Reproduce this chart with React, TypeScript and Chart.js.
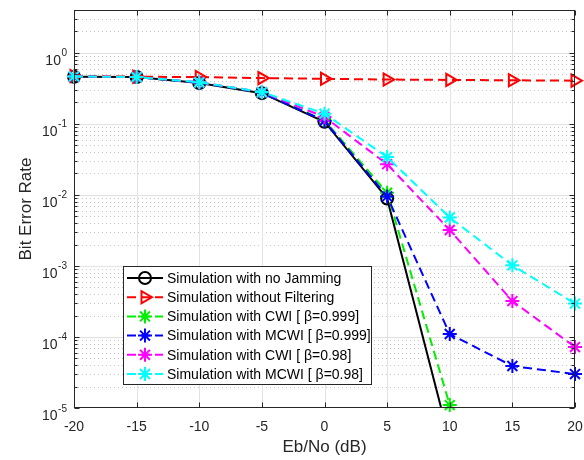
import React, { useEffect, useRef } from 'react';
import { Chart, registerables } from 'chart.js';
import { drawPoint } from 'chart.js/helpers';

Chart.register(...registerables);

// ---------- data ----------
const snrDb = [-20, -15, -10, -5, 0, 5, 10, 15, 20];
const xTickValues = [-20, -15, -10, -5, 0, 5, 10, 15, 20];
const yDecadeExponents = [0, -1, -2, -3, -4, -5];

const berNoJamming = [0.46, 0.455, 0.375, 0.27, 0.107, 0.0089, 3.4e-6, null, null];
const berNoFiltering = [0.47, 0.46, 0.455, 0.44, 0.43, 0.42, 0.415, 0.41, 0.405];
const berCwi999 = [0.46, 0.455, 0.38, 0.275, 0.112, 0.0107, 1.1e-5, null, null];
const berMcwi999 = [0.46, 0.455, 0.38, 0.275, 0.11, 0.0095, 1.1e-4, 3.9e-5, 3.0e-5];
const berCwi98 = [0.465, 0.455, 0.385, 0.28, 0.125, 0.027, 0.0032, 3.2e-4, 7.2e-5];
const berMcwi98 = [0.465, 0.455, 0.385, 0.28, 0.139, 0.034, 0.0048, 1.02e-3, 2.95e-4];

const seriesLabels = [
  'Simulation with no Jamming',
  'Simulation without Filtering',
  'Simulation with CWI [ \u03b2=0.999]',
  'Simulation with MCWI [ \u03b2=0.999]',
  'Simulation with CWI [ \u03b2=0.98]',
  'Simulation with MCWI [ \u03b2=0.98]',
];
const xAxisTitle = 'Eb/No (dB)';
const yAxisTitle = 'Bit Error Rate';

// ---------- styling ----------
const FONT = '"Liberation Sans", Arial, Helvetica, sans-serif';
const AXIS_COLOR = '#262626';

const seriesStyles = [
  { color: '#000000', dash: [], pointStyle: 'circle', radius: 6, rotation: 0 },
  { color: '#ff0000', dash: [9, 5], pointStyle: 'triangle', radius: 7, rotation: 90 },
  { color: '#00ee00', dash: [9, 5], pointStyle: 'star', radius: 7, rotation: 0 },
  { color: '#0000ff', dash: [9, 5], pointStyle: 'star', radius: 7, rotation: 0 },
  { color: '#ff00ff', dash: [9, 5], pointStyle: 'star', radius: 7, rotation: 0 },
  { color: '#00ffff', dash: [9, 5], pointStyle: 'star', radius: 7, rotation: 0 },
];

const seriesValues = [berNoJamming, berNoFiltering, berCwi999, berMcwi999, berCwi98, berMcwi98];

function hline(ctx: CanvasRenderingContext2D, x1: number, x2: number, y: number) {
  ctx.beginPath();
  ctx.moveTo(x1, y);
  ctx.lineTo(x2, y);
  ctx.stroke();
}
function vline(ctx: CanvasRenderingContext2D, x: number, y1: number, y2: number) {
  ctx.beginPath();
  ctx.moveTo(x, y1);
  ctx.lineTo(x, y2);
  ctx.stroke();
}

const matlabPlugin = {
  id: 'matlabAxes',
  beforeDatasetsDraw(chart: any) {
    const { ctx, chartArea: a, scales } = chart;
    const xs = scales.x;
    const ys = scales.y;
    ctx.save();
    ctx.fillStyle = '#ffffff';
    ctx.fillRect(a.left, a.top, a.right - a.left, a.bottom - a.top);
    ctx.lineWidth = 1;
    // minor y grid (dotted)
    ctx.strokeStyle = '#c4c4c4';
    ctx.setLineDash([1, 3]);
    for (const d of yDecadeExponents) {
      for (let m = 2; m <= 9; m++) {
        const v = m * Math.pow(10, d);
        if (v >= ys.max * 0.99) continue;
        const py = Math.round(ys.getPixelForValue(v)) + 0.5;
        hline(ctx, a.left, a.right, py);
      }
    }
    ctx.setLineDash([]);
    // major grid
    ctx.strokeStyle = '#e2e2e2';
    for (const d of yDecadeExponents) {
      const py = Math.round(ys.getPixelForValue(Math.pow(10, d))) + 0.5;
      if (py > a.bottom - 1) continue;
      hline(ctx, a.left, a.right, py);
    }
    for (const t of xTickValues) {
      const px = Math.round(xs.getPixelForValue(t)) + 0.5;
      if (px < a.left + 1 || px > a.right - 1) continue;
      vline(ctx, px, a.top, a.bottom);
    }
    ctx.restore();
  },
  afterDatasetsDraw(chart: any) {
    const { ctx, chartArea: a, scales } = chart;
    const xs = scales.x;
    const ys = scales.y;
    ctx.save();
    ctx.strokeStyle = AXIS_COLOR;
    ctx.lineWidth = 1;
    const L = Math.round(a.left) + 0.5;
    const R = Math.round(a.right) - 0.5;
    const T = Math.round(a.top) + 0.5;
    const B = Math.round(a.bottom) - 0.5;
    ctx.strokeRect(L, T, R - L, B - T);
    // ticks (inward, both sides)
    for (const t of xTickValues) {
      const px = Math.round(xs.getPixelForValue(t)) + 0.5;
      vline(ctx, px, B, B - 5);
      vline(ctx, px, T, T + 5);
    }
    for (const d of yDecadeExponents) {
      const py = Math.round(ys.getPixelForValue(Math.pow(10, d))) + 0.5;
      hline(ctx, L, L + 5, py);
      hline(ctx, R, R - 5, py);
      for (let m = 2; m <= 9; m++) {
        const v = m * Math.pow(10, d);
        if (v >= ys.max * 0.99) continue;
        const pm = Math.round(ys.getPixelForValue(v)) + 0.5;
        hline(ctx, L, L + 3, pm);
        hline(ctx, R, R - 3, pm);
      }
    }
    // x tick labels
    ctx.fillStyle = AXIS_COLOR;
    ctx.font = `14px ${FONT}`;
    ctx.textAlign = 'center';
    ctx.textBaseline = 'alphabetic';
    for (const t of xTickValues) {
      ctx.fillText(String(t), xs.getPixelForValue(t), a.bottom + 23);
    }
    // y tick labels 10^n
    for (const d of yDecadeExponents) {
      const py = ys.getPixelForValue(Math.pow(10, d));
      const exp = d < 0 ? '-' + String(-d) : String(d);
      ctx.font = `10px ${FONT}`;
      const we = ctx.measureText(exp).width;
      const right = a.left - 7;
      ctx.textAlign = 'left';
      ctx.fillText(exp, right - we, py + 3.5);
      ctx.font = `14px ${FONT}`;
      ctx.textAlign = 'right';
      ctx.fillText('10', right - we - 0.5, py + 12);
    }
    // axis titles
    ctx.font = `17px ${FONT}`;
    ctx.textAlign = 'center';
    ctx.fillText(xAxisTitle, (a.left + a.right) / 2, a.bottom + 44);
    ctx.save();
    ctx.translate(25, (a.top + a.bottom) / 2);
    ctx.rotate(-Math.PI / 2);
    ctx.fillText(yAxisTitle, 0, 6);
    ctx.restore();

    // legend
    const lx1 = 123.5, ly1 = 266.5, lx2 = 371.5, ly2 = 384.5;
    ctx.fillStyle = '#ffffff';
    ctx.fillRect(lx1, ly1, lx2 - lx1, ly2 - ly1);
    ctx.strokeStyle = '#262626';
    ctx.lineWidth = 1;
    ctx.strokeRect(lx1, ly1, lx2 - lx1, ly2 - ly1);
    const datasets = chart.data.datasets;
    for (let i = 0; i < datasets.length; i++) {
      const ds = datasets[i];
      const cy = 278 + i * 19.2;
      ctx.save();
      ctx.strokeStyle = ds.borderColor;
      ctx.lineWidth = 2;
      ctx.setLineDash(ds.borderDash || []);
      hline(ctx, 127, 163, cy);
      ctx.setLineDash([]);
      ctx.fillStyle = 'rgba(0,0,0,0)';
      ctx.strokeStyle = ds.pointBorderColor;
      drawPoint(ctx, {
        pointStyle: ds.pointStyle,
        rotation: ds.pointRotation,
        radius: ds.pointRadius,
        borderWidth: ds.pointBorderWidth,
      } as any, 145, cy);
      ctx.restore();
      ctx.fillStyle = '#000000';
      ctx.font = `14px ${FONT}`;
      ctx.textAlign = 'left';
      ctx.textBaseline = 'middle';
      ctx.fillText(ds.label, 167, cy + 1);
    }
    ctx.restore();
  },
};

export default function App() {
  const canvasRef = useRef<HTMLCanvasElement | null>(null);

  useEffect(() => {
    const canvas = canvasRef.current;
    if (!canvas) return;
    const datasets = seriesValues.map((vals, i) => {
      const s = seriesStyles[i];
      return {
        label: seriesLabels[i],
        data: snrDb.map((x, j) => ({ x, y: vals[j] })),
        borderColor: s.color,
        backgroundColor: 'rgba(0,0,0,0)',
        borderWidth: 2,
        borderDash: s.dash,
        pointStyle: s.pointStyle,
        pointRadius: s.radius,
        pointHoverRadius: s.radius,
        pointRotation: s.rotation,
        pointBorderWidth: 2,
        pointBorderColor: s.color,
        pointBackgroundColor: 'rgba(0,0,0,0)',
        tension: 0,
        spanGaps: false,
        order: seriesValues.length - i,
        clip: i === 0 ? { left: 10, right: 10, top: 10, bottom: 0 } : false,
      };
    });
    const chart = new Chart(canvas, {
      type: 'line',
      data: { datasets } as any,
      options: {
        animation: false,
        responsive: false,
        maintainAspectRatio: false,
        layout: { padding: { left: 74, right: 8, top: 10, bottom: 52 } },
        scales: {
          x: { type: 'linear', min: -20, max: 20, display: false },
          y: { type: 'logarithmic', min: 1e-5, max: 4, display: false },
        },
        plugins: {
          legend: { display: false },
          tooltip: { enabled: false },
        },
        events: [],
      } as any,
      plugins: [matlabPlugin],
    });
    return () => chart.destroy();
  }, []);

  return (
    <div style={{ position: 'absolute', left: 0, top: 0, width: 584, height: 460, background: '#ffffff' }}>
      <canvas ref={canvasRef} width={584} height={460} style={{ display: 'block', width: 584, height: 460 }} />
    </div>
  );
}
